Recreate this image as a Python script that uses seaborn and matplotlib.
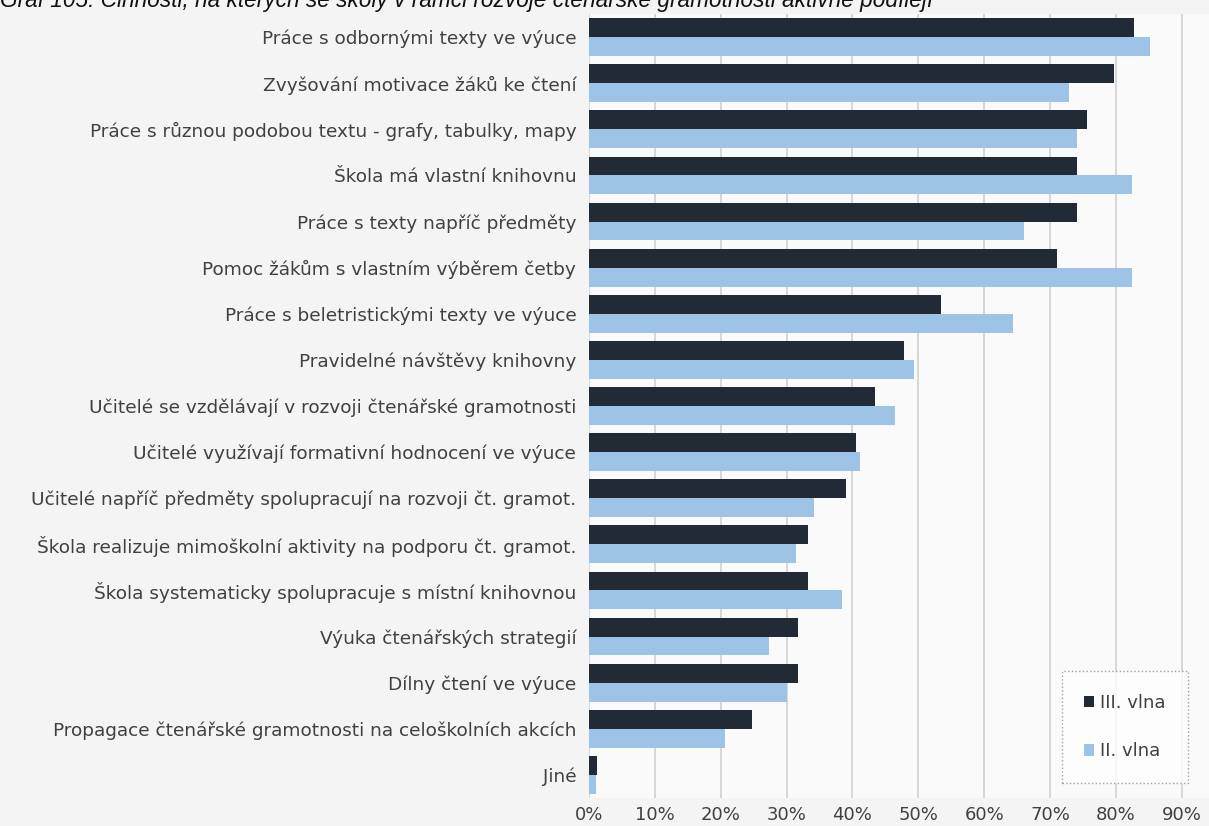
import pandas as pd
import seaborn as sns
import matplotlib.pyplot as plt
from matplotlib.ticker import FuncFormatter

# data (percent)
categories = [
    "Práce s odbornými texty ve výuce",
    "Zvyšování motivace žáků ke čtení",
    "Práce s různou podobou textu - grafy, tabulky, mapy",
    "Škola má vlastní knihovnu",
    "Práce s texty napříč předměty",
    "Pomoc žákům s vlastním výběrem četby",
    "Práce s beletristickými texty ve výuce",
    "Pravidelné návštěvy knihovny",
    "Učitelé se vzdělávají v rozvoji čtenářské gramotnosti",
    "Učitelé využívají formativní hodnocení ve výuce",
    "Učitelé napříč předměty spolupracují na rozvoji čt. gramot.",
    "Škola realizuje mimoškolní aktivity na podporu čt. gramot.",
    "Škola systematicky spolupracuje s místní knihovnou",
    "Výuka čtenářských strategií",
    "Dílny čtení ve výuce",
    "Propagace čtenářské gramotnosti na celoškolních akcích",
    "Jiné",
]
vlna_3 = [82.7, 79.7, 75.6, 74.0, 74.0, 71.1, 53.5, 47.9, 43.4, 40.5,
          39.0, 33.3, 33.3, 31.8, 31.8, 24.7, 1.2]
vlna_2 = [85.1, 72.9, 74.0, 82.4, 66.0, 82.4, 64.3, 49.3, 46.4, 41.1,
          34.2, 31.5, 38.4, 27.3, 30.1, 20.6, 1.1]
series = ["III. vlna", "II. vlna"]
title = ("Graf 105: Činnosti, na kterých se školy v rámci rozvoje "
         "čtenářské gramotnosti aktivně podílejí")

df = pd.DataFrame({
    "kategorie": categories * 2,
    "vlna": [series[0]] * len(categories) + [series[1]] * len(categories),
    "hodnota": vlna_3 + vlna_2,
})

sns.set_theme(style="white")
plt.rcParams["font.family"] = ["DejaVu Sans"]

fig = plt.figure(figsize=(12.09, 8.26), dpi=100, facecolor="#f4f4f4")
ax = fig.add_axes([0.487, 0.034, 0.513, 0.949])
ax.set_facecolor("#fafafa")

sns.barplot(data=df, y="kategorie", x="hodnota", hue="vlna", order=categories,
            hue_order=series, palette=["#222a35", "#9dc3e6"], saturation=1,
            orient="h", width=0.82, gap=0, edgecolor="none", ax=ax)

ax.set_xlim(0, 94.1)
ax.set_xticks(range(0, 100, 10))
ax.xaxis.set_major_formatter(FuncFormatter(lambda v, p: f"{v:.0f}%"))
ax.grid(axis="x", color="#d4d4d4", linewidth=1.3)
ax.set_axisbelow(True)
for s in ax.spines.values():
    s.set_visible(False)
ax.set_xlabel("")
ax.set_ylabel("")
ax.tick_params(axis="y", length=0, pad=9, labelsize=13.3, labelcolor="#404040")
ax.tick_params(axis="x", length=0, pad=6, labelsize=13, labelcolor="#404040")

leg = ax.legend(loc="lower right", bbox_to_anchor=(0.966, 0.019), frameon=True,
                borderaxespad=0, fontsize=13, labelspacing=1.7, handlelength=0.55,
                handleheight=0.6, handletextpad=0.3, borderpad=1.25, fancybox=False)
leg.get_frame().set_edgecolor("#8a8a8a")
leg.get_frame().set_linestyle(":")
leg.get_frame().set_facecolor("white")
for t in leg.get_texts():
    t.set_color("#404040")

fig.text(0.0, 1 - 7 / 826, title, fontsize=16.3, style="italic", color="#111111",
         family=["Liberation Sans", "DejaVu Sans"], ha="left", va="baseline")

fig.savefig("out.png", dpi=100, facecolor=fig.get_facecolor())
